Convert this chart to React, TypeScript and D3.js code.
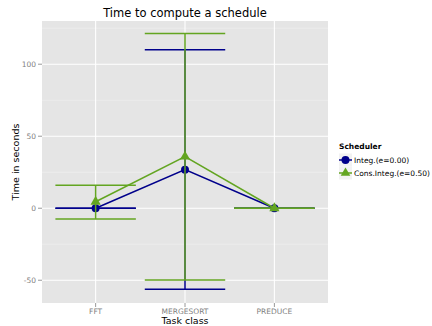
import { useEffect, useRef } from "react";
import * as d3 from "d3";

const categories = ["FFT", "MERGESORT", "PREDUCE"];
const seriesNames = ["Integ.(e=0.00)", "Cons.Integ.(e=0.50)"];
const integMean = [0, 26.8, 0];
const integMin = [0, -56.3, 0];
const integMax = [0, 110, 0];
const consMean = [4.5, 35.8, 0];
const consMin = [-7.4, -49.8, 0];
const consMax = [16, 121.3, 0];
const yTicks = [-50, 0, 50, 100];
const yMinor = [-25, 25, 75, 125];

const colors = ["#00008B", "#63A521"];

function App() {
  const ref = useRef<SVGSVGElement>(null);

  useEffect(() => {
    const svg = d3.select(ref.current);
    svg.selectAll("*").remove();
    const left = 42, right = 328, top = 21, bottom = 303;

    const x = d3.scalePoint().domain(categories).range([left, right]).padding(0.6);
    const y = d3.scaleLinear().domain([-65.8, 130]).range([bottom, top]);
    const step = x.step();

    svg.append("rect").attr("x", left).attr("y", top)
      .attr("width", right - left).attr("height", bottom - top).attr("fill", "#E5E5E5");

    const g = svg.append("g");
    g.selectAll(".minor").data(yMinor).enter().append("line")
      .attr("x1", left).attr("x2", right)
      .attr("y1", d => y(d)).attr("y2", d => y(d))
      .attr("stroke", "#F2F2F2").attr("stroke-width", 0.6);
    g.selectAll(".major").data(yTicks).enter().append("line")
      .attr("x1", left).attr("x2", right)
      .attr("y1", d => y(d)).attr("y2", d => y(d))
      .attr("stroke", "#fff").attr("stroke-width", 1.1);
    g.selectAll(".vmajor").data(categories).enter().append("line")
      .attr("y1", top).attr("y2", bottom)
      .attr("x1", d => x(d)!).attr("x2", d => x(d)!)
      .attr("stroke", "#fff").attr("stroke-width", 1.1);

    // axes ticks + labels
    const axisColor = "#7F7F7F";
    yTicks.forEach(t => {
      svg.append("line").attr("x1", left - 4).attr("x2", left).attr("y1", y(t)).attr("y2", y(t))
        .attr("stroke", axisColor).attr("stroke-width", 0.8);
      svg.append("text").attr("x", left - 6).attr("y", y(t)).attr("dy", "0.35em")
        .attr("text-anchor", "end").attr("fill", axisColor).attr("font-size", 7.5).text(t);
    });
    categories.forEach(c => {
      svg.append("line").attr("x1", x(c)!).attr("x2", x(c)!).attr("y1", bottom).attr("y2", bottom + 4)
        .attr("stroke", axisColor).attr("stroke-width", 0.8);
      svg.append("text").attr("x", x(c)!).attr("y", bottom + 11)
        .attr("text-anchor", "middle").attr("fill", axisColor).attr("font-size", 7.5).text(c);
    });

    const series = [
      { mean: integMean, lo: integMin, hi: integMax },
      { mean: consMean, lo: consMin, hi: consMax },
    ];
    const hw = step * 0.45;

    series.forEach((s, i) => {
      const col = colors[i];
      const sg = svg.append("g");
      categories.forEach((c, j) => {
        const cx = x(c)!;
        sg.append("line").attr("x1", cx).attr("x2", cx).attr("y1", y(s.lo[j])).attr("y2", y(s.hi[j]))
          .attr("stroke", col).attr("stroke-width", 1.5);
        [s.lo[j], s.hi[j]].forEach(v => {
          sg.append("line").attr("x1", cx - hw).attr("x2", cx + hw).attr("y1", y(v)).attr("y2", y(v))
            .attr("stroke", col).attr("stroke-width", 1.5);
        });
      });
      const line = d3.line<number>().x((_, j) => x(categories[j])!).y(d => y(d));
      sg.append("path").attr("d", line(s.mean)).attr("fill", "none")
        .attr("stroke", col).attr("stroke-width", 1.5);
      const sym = d3.symbol().type(i === 0 ? d3.symbolCircle : d3.symbolTriangle).size(i === 0 ? 50 : 45);
      sg.selectAll(".pt").data(s.mean).enter().append("path")
        .attr("d", sym)
        .attr("transform", (d, j) => `translate(${x(categories[j])},${y(d)})`)
        .attr("fill", col);
    });

    // titles
    svg.append("text").attr("x", (left + right) / 2).attr("y", 17).attr("text-anchor", "middle")
      .attr("font-size", 11.5).attr("fill", "#000").text("Time to compute a schedule");
    svg.append("text").attr("x", (left + right) / 2).attr("y", 323.5).attr("text-anchor", "middle")
      .attr("font-size", 9.5).attr("fill", "#000").text("Task class");
    svg.append("text").attr("transform", `translate(19,${(top + bottom) / 2}) rotate(-90)`)
      .attr("text-anchor", "middle").attr("font-size", 9.5).attr("fill", "#000").text("Time in seconds");

    // legend
    const lg = svg.append("g").attr("transform", "translate(339,0)");
    lg.append("text").attr("x", 0).attr("y", 149).attr("font-size", 7.5).attr("font-weight", "bold")
      .text("Scheduler");
    seriesNames.forEach((n, i) => {
      const ky = 153.5 + i * 13;
      lg.append("rect").attr("x", 0).attr("y", ky).attr("width", 13).attr("height", 13).attr("fill", "#F2F2F2");
      lg.append("line").attr("x1", 0).attr("x2", 13).attr("y1", ky + 6.5).attr("y2", ky + 6.5)
        .attr("stroke", colors[i]).attr("stroke-width", 1.5);
      const sym = d3.symbol().type(i === 0 ? d3.symbolCircle : d3.symbolTriangle).size(i === 0 ? 50 : 40);
      lg.append("path").attr("d", sym).attr("transform", `translate(6.5,${ky + 6.5})`).attr("fill", colors[i]);
      lg.append("text").attr("x", 15).attr("y", ky + 6.5).attr("dy", "0.35em").attr("font-size", 7.5)
        .attr("fill", "#000").text(n);
    });
  }, []);

  return (
    <svg ref={ref} width={432} height={326}
      style={{ position: "absolute", left: 0, top: 0, fontFamily: "DejaVu Sans", background: "#fff" }} />
  );
}

export default App;
